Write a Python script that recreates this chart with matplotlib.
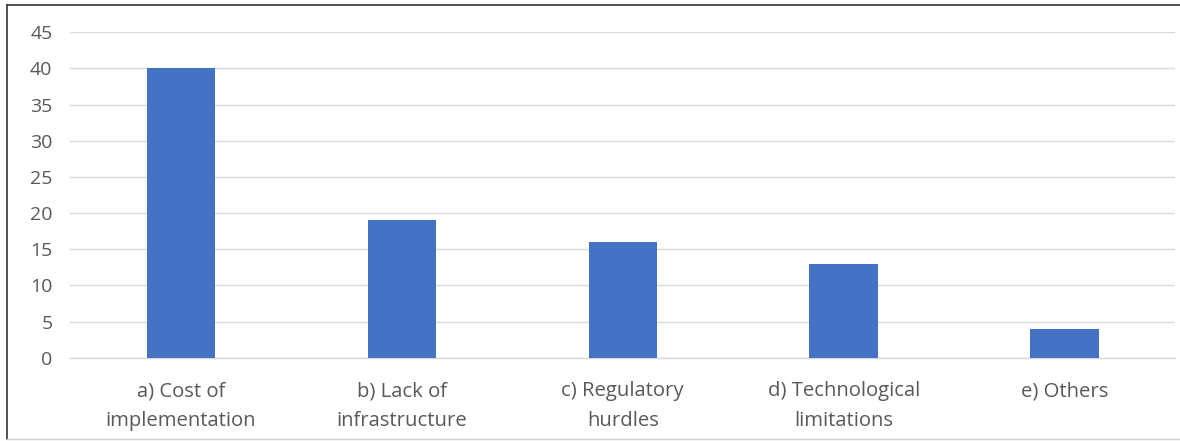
import matplotlib
matplotlib.use("Agg")
import matplotlib.pyplot as plt
from matplotlib.lines import Line2D

categories = ["a) Cost of\nimplementation", "b) Lack of\ninfrastructure",
              "c) Regulatory\nhurdles", "d) Technological\nlimitations", "e) Others"]
values = [40, 19, 16, 13, 4]
yticks = [0, 5, 10, 15, 20, 25, 30, 35, 40, 45]

plt.rcParams['font.family'] = ['Open Sans', 'DejaVu Sans']
text_color = "#595959"

fig = plt.figure(figsize=(11.8, 4.41), dpi=100)
ax = fig.add_axes([0.0597, 0.1889, 0.9361, 0.7379])

x = list(range(len(categories)))
ax.bar(x, values, width=0.31, color="#4472C4", zorder=3)

ax.set_xlim(-0.5, len(categories) - 0.5)
ax.set_ylim(0, 45)
ax.set_yticks(yticks)
ax.set_xticks(x)
ax.set_xticklabels(categories, linespacing=1.62)
ax.yaxis.grid(True, color="#d9d9d9", linewidth=1, zorder=0)
ax.tick_params(axis="x", length=0, labelsize=14.6, colors=text_color, pad=17)
ax.tick_params(axis="y", length=0, labelsize=14, colors=text_color, pad=13)
for side in ["top", "right", "left"]:
    ax.spines[side].set_visible(False)
ax.spines["bottom"].set_color("#d9d9d9")
ax.spines["bottom"].set_linewidth(1)

# outer chart frame
fig.add_artist(Line2D([7 / 1180, 7 / 1180], [1 - 439 / 441, 1 - 5 / 441],
                      transform=fig.transFigure, color="#333333", linewidth=1.2))
fig.add_artist(Line2D([7 / 1180, 1.0], [1 - 5 / 441, 1 - 5 / 441],
                      transform=fig.transFigure, color="#333333", linewidth=1.2))
fig.add_artist(Line2D([7 / 1180, 1.0], [1 - 439 / 441, 1 - 439 / 441],
                      transform=fig.transFigure, color="#d0d0d0", linewidth=1))

fig.savefig("out.png", dpi=100, facecolor="white")
